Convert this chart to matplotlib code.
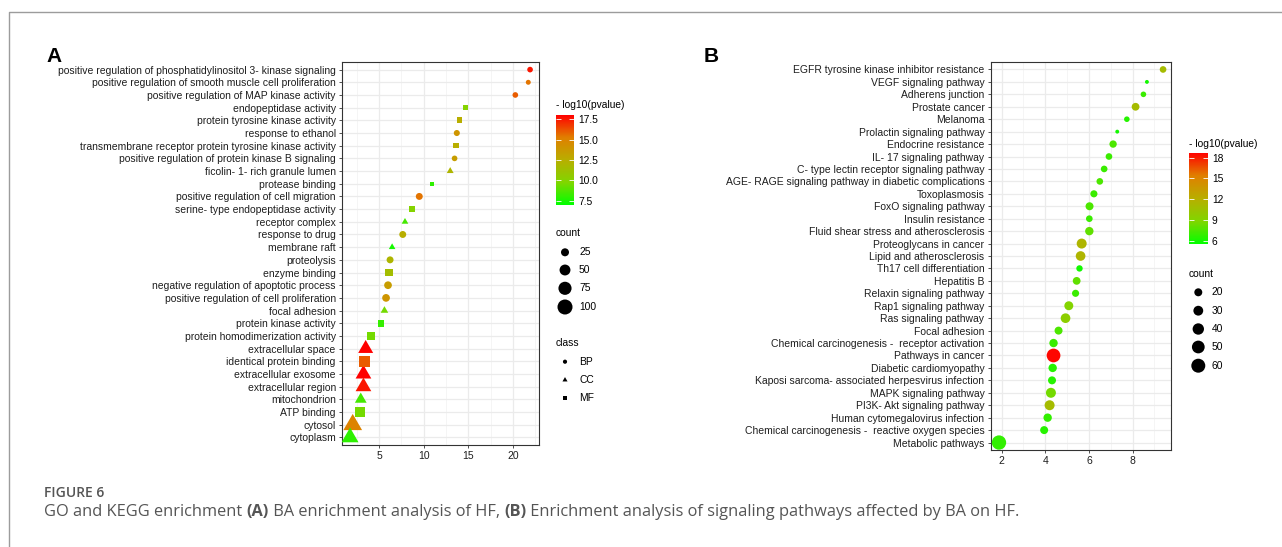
import matplotlib
matplotlib.use("Agg")
import matplotlib.pyplot as plt
import numpy as np
from matplotlib.cm import ScalarMappable
from matplotlib.colors import LinearSegmentedColormap, Normalize
from matplotlib.path import Path

plt.rcParams["font.family"] = ["Liberation Sans", "DejaVu Sans"]

# ---- Panel A: GO enrichment (listed top to bottom) ----
go_terms = [
    "positive regulation of phosphatidylinositol 3- kinase signaling",
    "positive regulation of smooth muscle cell proliferation",
    "positive regulation of MAP kinase activity",
    "endopeptidase activity",
    "protein tyrosine kinase activity",
    "response to ethanol",
    "transmembrane receptor protein tyrosine kinase activity",
    "positive regulation of protein kinase B signaling",
    "ficolin- 1- rich granule lumen",
    "protease binding",
    "positive regulation of cell migration",
    "serine- type endopeptidase activity",
    "receptor complex",
    "response to drug",
    "membrane raft",
    "proteolysis",
    "enzyme binding",
    "negative regulation of apoptotic process",
    "positive regulation of cell proliferation",
    "focal adhesion",
    "protein kinase activity",
    "protein homodimerization activity",
    "extracellular space",
    "identical protein binding",
    "extracellular exosome",
    "extracellular region",
    "mitochondrion",
    "ATP binding",
    "cytosol",
    "cytoplasm",
]
go_x = [21.9, 21.7, 20.25, 14.7, 14.0, 13.7, 13.6, 13.45, 12.96, 10.9,
        9.5, 8.7, 7.9, 7.65, 6.46, 6.23, 6.12, 6.0, 5.78, 5.6,
        5.22, 4.07, 3.5, 3.36, 3.25, 3.25, 2.95, 2.83, 2.05, 1.75]
go_logp = [17.5, 15.5, 16.0, 10.0, 12.5, 14.0, 12.5, 13.5, 12.0, 8.0,
           15.5, 10.0, 8.5, 12.5, 7.5, 12.0, 11.5, 13.5, 14.0, 9.5,
           8.2, 9.5, 18.0, 16.0, 18.3, 17.5, 8.5, 9.5, 15.0, 8.0]
go_count = [11, 8, 11, 9, 15, 13, 13, 11, 11, 5,
            18, 17, 10, 18, 10, 18, 27, 23, 23, 14,
            22, 30, 65, 66, 72, 72, 38, 54, 105, 85]
go_class = ["BP", "BP", "BP", "MF", "MF", "BP", "MF", "BP", "CC", "MF",
            "BP", "MF", "CC", "BP", "CC", "BP", "MF", "BP", "BP", "CC",
            "MF", "MF", "CC", "MF", "CC", "CC", "CC", "MF", "CC", "CC"]

# ---- Panel B: KEGG enrichment (listed top to bottom) ----
kegg_terms = [
    "EGFR tyrosine kinase inhibitor resistance",
    "VEGF signaling pathway",
    "Adherens junction",
    "Prostate cancer",
    "Melanoma",
    "Prolactin signaling pathway",
    "Endocrine resistance",
    "IL- 17 signaling pathway",
    "C- type lectin receptor signaling pathway",
    "AGE- RAGE signaling pathway in diabetic complications",
    "Toxoplasmosis",
    "FoxO signaling pathway",
    "Insulin resistance",
    "Fluid shear stress and atherosclerosis",
    "Proteoglycans in cancer",
    "Lipid and atherosclerosis",
    "Th17 cell differentiation",
    "Hepatitis B",
    "Relaxin signaling pathway",
    "Rap1 signaling pathway",
    "Ras signaling pathway",
    "Focal adhesion",
    "Chemical carcinogenesis -  receptor activation",
    "Pathways in cancer",
    "Diabetic cardiomyopathy",
    "Kaposi sarcoma- associated herpesvirus infection",
    "MAPK signaling pathway",
    "PI3K- Akt signaling pathway",
    "Human cytomegalovirus infection",
    "Chemical carcinogenesis -  reactive oxygen species",
    "Metabolic pathways",
]
kegg_x = [9.40, 8.66, 8.50, 8.14, 7.74, 7.30, 7.11, 6.92, 6.70, 6.50,
          6.23, 6.03, 6.02, 6.02, 5.67, 5.62, 5.57, 5.44, 5.39, 5.08,
          4.93, 4.61, 4.38, 4.38, 4.34, 4.31, 4.26, 4.20, 4.11, 3.95, 1.88]
kegg_logp = [11.0, 6.0, 7.0, 11.0, 6.5, 6.0, 7.5, 7.0, 7.0, 7.5,
             7.0, 7.5, 7.0, 8.0, 11.5, 11.5, 6.0, 8.0, 7.0, 9.0,
             9.5, 7.5, 7.0, 18.5, 6.5, 6.5, 8.5, 11.0, 6.8, 6.5, 6.8]
kegg_count = [14, 5, 10, 19, 10, 5, 17, 14, 14, 14,
              16, 20, 14, 22, 31, 29, 13, 19, 16, 25,
              29, 20, 22, 58, 22, 20, 31, 31, 22, 20, 63]

cmap = LinearSegmentedColormap.from_list(
    "green_red",
    [(0.0, "#00FF00"), (0.25, "#80D600"), (0.5, "#B8AE00"),
     (0.75, "#E07F00"), (1.0, "#FF0000")],
)
norm_a = Normalize(7.0, 18.0)
norm_b = Normalize(5.5, 18.7)

# triangle centred on its centroid, like R's pch 17
tri = Path([(0, 1), (-0.866, -0.5), (0.866, -0.5), (0, 1)],
           [Path.MOVETO, Path.LINETO, Path.LINETO, Path.CLOSEPOLY])
class_marker = {"BP": "o", "CC": tri, "MF": "s"}
shape_scale = {"BP": 1.0, "CC": 1.41, "MF": 0.886}


def size_a(count, cls="BP"):
    d = (1.0 + 1.4 * np.sqrt(np.asarray(count, float))) * 0.72
    return (d * shape_scale[cls]) ** 2


def size_b(count, cls="BP"):
    d = (1.83 * np.sqrt(np.asarray(count, float)) - 0.2) * 0.72
    return (d * shape_scale[cls]) ** 2


W, H = 1282, 547
fig = plt.figure(figsize=(W / 100, H / 100), dpi=100)

# background canvas in pixel coordinates for frame, legends and caption
bg = fig.add_axes([0, 0, 1, 1])
bg.set_xlim(0, W)
bg.set_ylim(H, 0)
bg.axis("off")
bg.plot([9, 9, W], [H, 11.5, 11.5], color="#9c9c9c", lw=1.0)


def style_axes(ax, n, xticks, minor):
    ax.set_ylim(-0.6, n - 0.4)
    ax.set_xticks(xticks)
    ax.set_xticks(minor, minor=True)
    ax.tick_params(axis="y", which="minor", left=False)
    ax.grid(True, which="major", color="#EBEBEB", lw=0.9, zorder=0)
    ax.grid(True, which="minor", axis="x", color="#F2F2F2", lw=0.5, zorder=0)
    ax.set_axisbelow(True)
    for sp in ax.spines.values():
        sp.set_color("#333333")
        sp.set_linewidth(0.8)
    ax.tick_params(which="major", length=2.5, width=0.6, color="#333333",
                   labelsize=7.5, labelcolor="#1e1e1e", pad=2)
    ax.tick_params(axis="x", which="minor", length=0)


# ---- Panel A ----
ax1 = fig.add_axes([342 / W, 1 - 445 / H, 197 / W, 383 / H])
n_a = len(go_terms)
ya = np.arange(n_a)[::-1]
for cls, mk in class_marker.items():
    idx = [i for i, c in enumerate(go_class) if c == cls]
    ax1.scatter(np.array(go_x)[idx], ya[idx], s=size_a(np.array(go_count)[idx], cls),
                c=np.array(go_logp)[idx], cmap=cmap, norm=norm_a, marker=mk,
                edgecolors="none", zorder=3)
ax1.set_xlim(0.85, 22.9)
style_axes(ax1, n_a, [5, 10, 15, 20], [2.5, 7.5, 12.5, 17.5, 22.5])
ax1.set_yticks(ya)
ax1.set_yticklabels(go_terms)

# ---- Panel B ----
ax2 = fig.add_axes([990.7 / W, 1 - 450 / H, 180 / W, 388 / H])
n_b = len(kegg_terms)
yb = np.arange(n_b)[::-1]
ax2.scatter(kegg_x, yb, s=size_b(kegg_count), c=kegg_logp, cmap=cmap,
            norm=norm_b, edgecolors="none", zorder=3)
ax2.set_xlim(1.5, 9.75)
style_axes(ax2, n_b, [2, 4, 6, 8], [3, 5, 7, 9])
ax2.set_yticks(yb)
ax2.set_yticklabels(kegg_terms)

# panel letters
bg.text(46, 57, "A", fontsize=15, fontweight="bold", va="center", ha="left")
bg.text(704, 57, "B", fontsize=15, fontweight="bold", va="center", ha="left")

# ---- Legends ----
leg_fs = 7.4


def colorbar(rect, norm, ticks, fmt):
    cax = fig.add_axes(rect)
    cb = fig.colorbar(ScalarMappable(norm=norm, cmap=cmap), cax=cax, ticks=ticks)
    cb.outline.set_visible(False)
    cb.ax.set_yticklabels([fmt % t for t in ticks])
    cb.ax.tick_params(direction="in", length=3.5, width=0.6, color="white",
                      left=True, right=True, labelsize=leg_fs, pad=3)
    return cb


bg.text(556, 105, "- log10(pvalue)", fontsize=leg_fs, va="center")
colorbar([556 / W, 1 - 205 / H, 18 / W, 90 / H], norm_a,
         [7.5, 10.0, 12.5, 15.0, 17.5], "%.1f")

bg.text(556, 233, "count", fontsize=leg_fs, va="center")
count_a = [25, 50, 75, 100]
ky = [252.3, 270.0, 288.3, 307.0]
bg.scatter([565] * 4, ky, s=size_a(count_a), color="black", edgecolors="none")
for c, y in zip(count_a, ky):
    bg.text(579, y, str(c), fontsize=leg_fs, va="center")

bg.text(556, 343, "class", fontsize=leg_fs, va="center")
cy = [361.7, 380.0, 398.0]
for (cls, mk), y in zip(class_marker.items(), cy):
    bg.scatter([565], [y], s=(3.0 * shape_scale[cls]) ** 2, marker=mk,
               color="black", edgecolors="none")
    bg.text(579, y, cls, fontsize=leg_fs, va="center")

bg.text(1189, 144, "- log10(pvalue)", fontsize=leg_fs, va="center")
colorbar([1189 / W, 1 - 244.3 / H, 18.7 / W, 91.6 / H], norm_b,
         [6, 9, 12, 15, 18], "%d")

bg.text(1189, 274, "count", fontsize=leg_fs, va="center")
count_b = [20, 30, 40, 50, 60]
kby = [292.3, 310.7, 329.0, 347.0, 365.7]
bg.scatter([1198.3] * 5, kby, s=size_b(count_b), color="black", edgecolors="none")
for c, y in zip(count_b, kby):
    bg.text(1212, y, str(c), fontsize=leg_fs, va="center")

# ---- Caption ----
cap_font = ["Open Sans", "DejaVu Sans"]
bg.text(44, 493, "FIGURE 6", fontsize=10, fontweight="semibold",
        color="#555555", family=cap_font, va="center")

renderer = fig.canvas.get_renderer()
pieces = [
    ("GO and KEGG enrichment ", "normal"),
    ("(A)", "bold"),
    (" BA enrichment analysis of HF, ", "normal"),
    ("(B)", "bold"),
    (" Enrichment analysis of signaling pathways affected by BA on HF.", "normal"),
]
x = 44
for txt, wt in pieces:
    t = bg.text(x, 512, txt, fontsize=11.8, fontweight=wt, color="#555555",
                family=cap_font, va="center")
    x += t.get_window_extent(renderer).width

fig.savefig("out.png", dpi=100)
